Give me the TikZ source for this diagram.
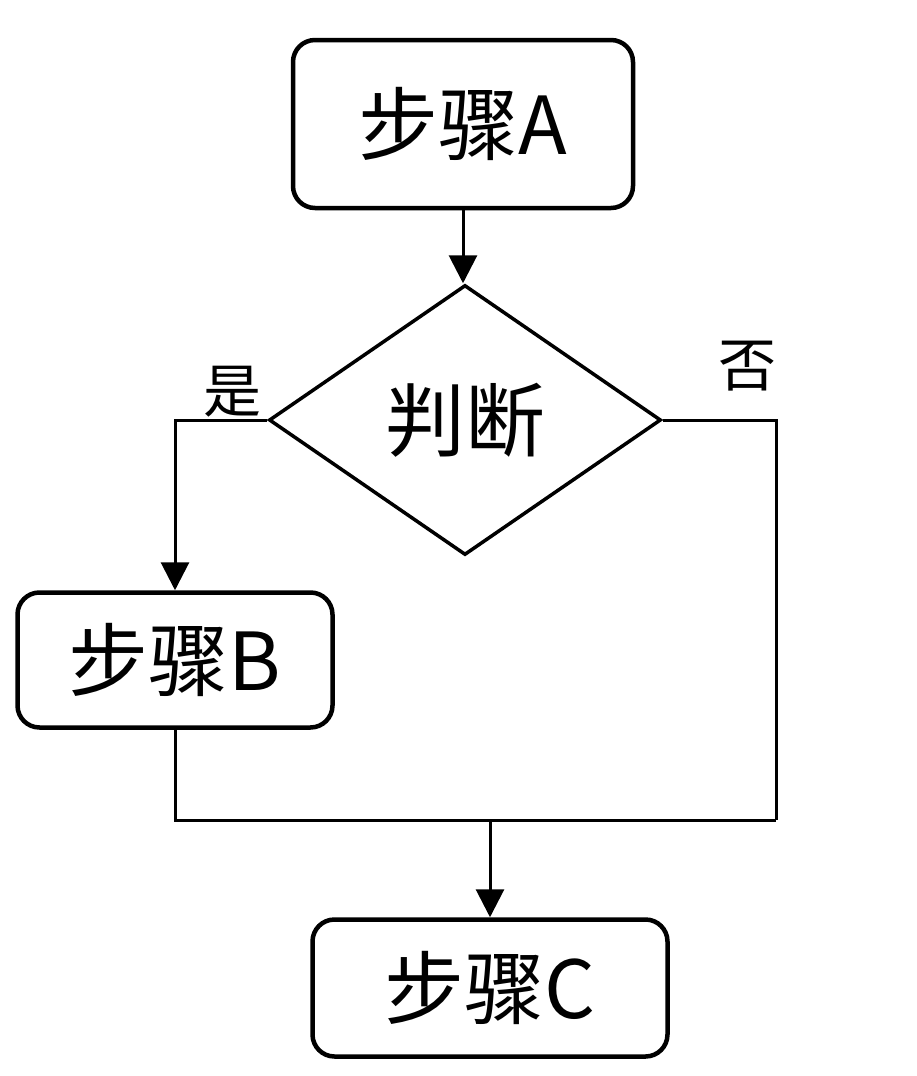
\documentclass[tikz,border=0pt]{standalone}
\usepackage{fontspec}
\setmainfont{Noto Sans CJK SC}
\usetikzlibrary{positioning,shapes.geometric,arrows.meta}
\tikzset{
	box/.style={draw,line width=4.5pt,rounded corners=22pt,inner sep=0pt,font=\fontsize{80}{84}\selectfont},
	decision/.style={draw,diamond,line width=3.5pt,inner sep=0pt,minimum width=392pt,minimum height=270pt,font=\fontsize{80}{84}\selectfont},
	flow/.style={line width=3pt,-{Triangle[length=28pt,width=28pt]}},
	tag/.style={font=\fontsize{58}{60}\selectfont},
}
\begin{document}
\begin{tikzpicture}[x=1pt,y=-1pt]
		\useasboundingbox (0,0) rectangle (916,1076);
		
		\node[box,minimum width=340pt,minimum height=168pt] (stepA) at (463,124) {步骤A};
		\node[decision] (judge) at (465,420) {判断};
		\node[box,minimum width=315pt,minimum height=135pt] (stepB) at (175,660) {步骤B};
		\node[box,minimum width=355pt,minimum height=137pt] (stepC) at (490,988) {步骤C};
		
		\node[tag] (yes) at (232,392) {是};
		\node[tag] (no) at (747,366) {否};
		
		\coordinate (merge) at (776,820);
	
		\draw[flow] (stepA.south) -- (stepA.south |- judge.north);
		\draw[flow] (judge.west) -| (stepB.north);
		\draw[line width=3pt] (judge.east) -| (merge);
		\draw[line width=3pt] (stepB.south) |- (merge);
		\draw[flow] (stepC.north |- merge) -- (stepC.north);
	\end{tikzpicture}
\end{document}
